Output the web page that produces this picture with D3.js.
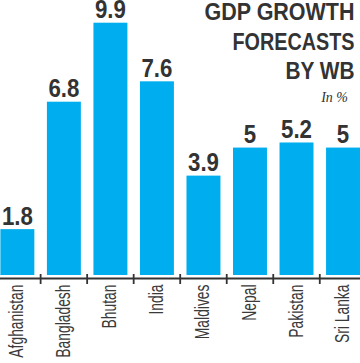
<!DOCTYPE html>
<html><head><meta charset="utf-8">
<script src="https://cdn.jsdelivr.net/npm/d3@7"></script>
<style>
html,body{margin:0;padding:0;background:#fff;}
svg{display:block;}
</style></head>
<body>
<svg id="c" width="360" height="363"></svg>
<script>
const categories = ["Afghanistan","Bangladesh","Bhutan","India","Maldives","Nepal","Pakistan","Sri Lanka"];
const values = [1.8, 6.8, 9.9, 7.6, 3.9, 5, 5.2, 5];
const valueLabels = ["1.8","6.8","9.9","7.6","3.9","5","5.2","5"];
const titleLines = ["GDP GROWTH","FORECASTS","BY WB"];
const unitLabel = "In %";

const svg = d3.select("#c");
const sans = "'Liberation Sans',Arial,sans-serif";

const x = d3.scaleBand().domain(categories).range([-5.9, 366.3]).paddingInner(0.27).paddingOuter(0.135);
const y = d3.scaleLinear().domain([0, 9.9]).range([275, 22.7]);

svg.append("g").selectAll("rect").data(categories).join("rect")
  .attr("x", d => x(d)).attr("width", x.bandwidth())
  .attr("y", (d,i) => y(values[i])).attr("height", (d,i) => y(0) - y(values[i]))
  .attr("fill", "#00aeef");

svg.append("g").selectAll("text").data(categories).join("text")
  .attr("transform", (d,i) => `translate(${x(d) + x.bandwidth()/2},${y(values[i]) - 4.5}) scale(0.89,1)`)
  .attr("text-anchor", "middle")
  .style("font-family", sans).style("font-weight", "bold").style("font-size", "25px")
  .attr("fill", "#333")
  .text((d,i) => valueLabels[i]);

// axis
const axisY = 278.5;
const ax = svg.append("g").attr("transform", `translate(0,${axisY})`);
ax.append("line").attr("x1", 0).attr("x2", 360).attr("stroke", "#333").attr("stroke-width", 1.8);
const bounds = categories.slice(1).map(d => x(d) - x.step()*x.paddingInner()/2);
ax.selectAll("line.tick").data(bounds).join("line").attr("class","tick")
  .attr("x1", d => d).attr("x2", d => d).attr("y1", -4.5).attr("y2", 5.5)
  .attr("stroke", "#333").attr("stroke-width", 1.8);
ax.selectAll("text").data(categories).join("text")
  .attr("transform", d => `translate(${x(d) + x.bandwidth()/2 + 6},6) rotate(-90) scale(0.66,1)`)
  .attr("text-anchor", "end")
  .style("font-family", sans).style("font-size", "21px")
  .attr("fill", "#3a3a3a")
  .text(d => d);

// title
const titleWidths = [150, 122, 69];
svg.append("g").selectAll("text").data(titleLines).join("text")
  .attr("x", 354.5).attr("y", (d,i) => 20 + i*29.5)
  .attr("text-anchor", "end")
  .attr("textLength", (d,i) => titleWidths[i]).attr("lengthAdjust", "spacingAndGlyphs")
  .style("font-family", sans).style("font-weight", "bold").style("font-size", "24px")
  .attr("fill", "#333")
  .text(d => d);
svg.append("text").attr("x", 348).attr("y", 102).attr("text-anchor", "end")
  .style("font-family", "'Liberation Serif','DejaVu Serif',serif").style("font-style","italic").style("font-size","14px")
  .attr("fill", "#333").text(unitLabel);
</script>
</body></html>
